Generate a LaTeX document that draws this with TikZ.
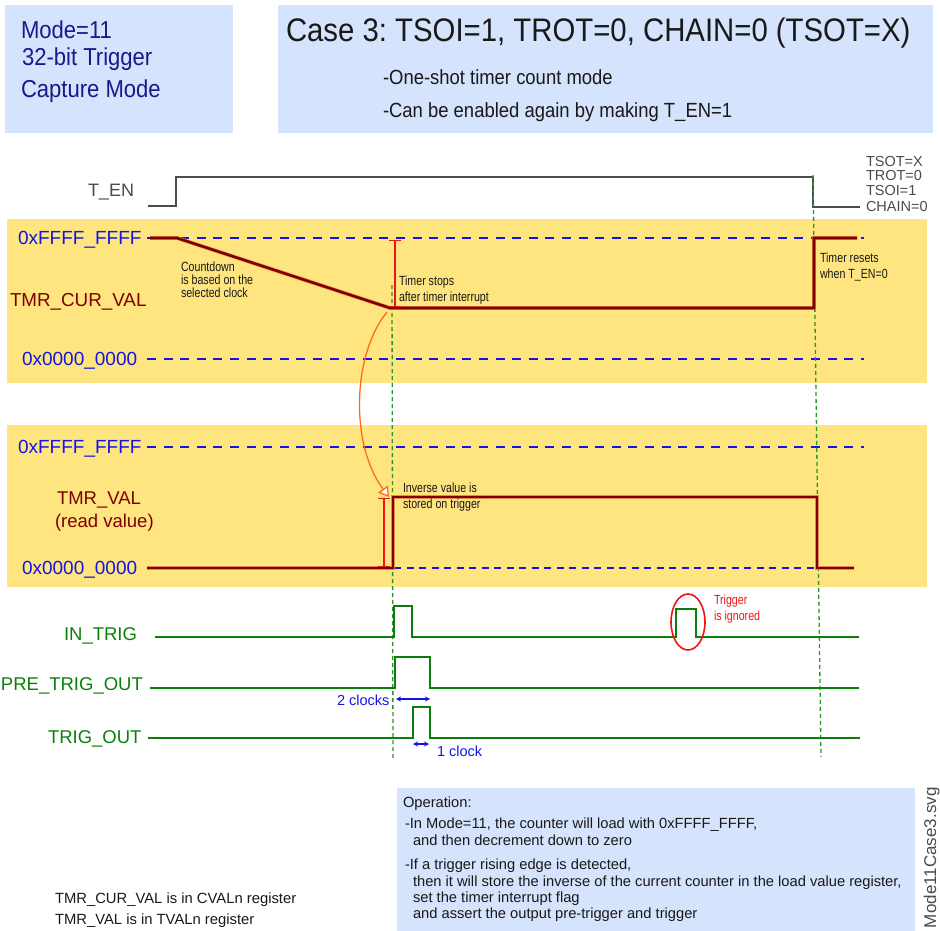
\documentclass[tikz,border=0pt]{standalone}
\usepackage{fontspec}
\setmainfont{Liberation Sans}
\newfontfamily\narrowfont[FakeStretch=0.8]{Liberation Sans}
\newfontfamily\titlefont[FakeStretch=0.9]{Liberation Sans}
\usetikzlibrary{arrows.meta}
\frenchspacing
\definecolor{boxblue}{RGB}{213,227,252}
\definecolor{panelyel}{RGB}{255,229,128}
\definecolor{navytxt}{RGB}{25,25,140}
\definecolor{dashblue}{RGB}{20,20,230}
\definecolor{dred}{RGB}{125,0,0}
\definecolor{halo}{RGB}{230,140,70}
\definecolor{sgreen}{RGB}{10,128,10}
\definecolor{lgreen}{RGB}{40,150,40}
\definecolor{tgrey}{RGB}{75,75,75}
\definecolor{arcorange}{RGB}{255,110,20}
\definecolor{ired}{RGB}{240,20,20}
\definecolor{txtblack}{RGB}{25,25,25}
\begin{document}
\begin{tikzpicture}[x=1pt,y=-1pt,
  txt/.style={anchor=base west,inner sep=0pt,outer sep=0pt},
  hexdash/.style={draw=dashblue,line width=2.8pt,dash pattern=on 9pt off 7.6pt},
  tmr/.style={draw=dred,line width=2.6pt,line join=miter},
  tmrhalo/.style={draw=halo,line width=3.8pt,line join=miter},
  sig/.style={draw=sgreen,line width=2.6pt,line join=miter},
  ten/.style={draw=tgrey,line width=2.4pt,line join=miter},
  vguide/.style={draw=lgreen,line width=1.3pt,dash pattern=on 4pt off 3pt},
  ibar/.style={draw=ired,line width=1.4pt,{Bar[width=12pt]}-{Bar[width=12pt]}},
  clk/.style={draw=dashblue,line width=1.2pt,{Stealth[length=5pt,width=5pt]}-{Stealth[length=5pt,width=5pt]}},
  hexlbl/.style={txt,text=dashblue,font=\fontsize{19}{22}\selectfont},
  redlbl/.style={txt,text=dred,font=\fontsize{18.5}{22}\selectfont},
  grnlbl/.style={txt,text=sgreen,font=\fontsize{18.5}{22}\selectfont},
  note/.style={txt,text=txtblack,font=\narrowfont\fontsize{13.3}{15}\selectfont},
  optxt/.style={txt,text=txtblack,font=\fontsize{14.7}{17}\selectfont},
  cfg/.style={txt,text=tgrey,font=\fontsize{14.5}{15}\selectfont}]
\useasboundingbox (0,0) rectangle (940,931);

% header boxes
\fill[boxblue] (5,5) rectangle (233,133);
\fill[boxblue] (278,5) rectangle (933,133);
\node[txt,text=navytxt,font=\titlefont\fontsize{24.5}{26}\selectfont] (mode) at (21,39) {Mode=11};
\node[txt,text=navytxt,font=\titlefont\fontsize{24.5}{26}\selectfont] (bits) at (22,66) {32-bit Trigger};
\node[txt,text=navytxt,font=\titlefont\fontsize{24.5}{26}\selectfont] (capt) at (21,98) {Capture Mode};
\node[txt,text=txtblack,font=\titlefont\fontsize{32.6}{34}\selectfont] (title) at (286,41.6) {Case 3: TSOI=1, TROT=0, CHAIN=0 (TSOT=X)};
\node[txt,text=txtblack,font=\titlefont\fontsize{20.5}{22}\selectfont] (sub1) at (383,84.7) {-One-shot timer count mode};
\node[txt,text=txtblack,font=\titlefont\fontsize{20.5}{22}\selectfont] (sub2) at (383,117.7) {-Can be enabled again by making T\_EN=1};

% T_EN
\node[txt,text=tgrey,font=\fontsize{18}{22}\selectfont] (ten) at (88,196.5) {T\_EN};
\draw[ten] (148,206) -- (176,206) -- (176,177) -- (813,177) -- (813,207) -- (860,207);
\node[cfg] (tsot) at (866,166.2) {TSOT=X};
\node[cfg] (trot) at (866,180.2) {TROT=0};
\node[cfg] (tsoi) at (866,195.2) {TSOI=1};
\node[cfg] (chain) at (866,211.2) {CHAIN=0};

% panels
\fill[panelyel] (7,219) rectangle (927,383);
\fill[panelyel] (7,425) rectangle (927,587);

% panel 1
\node[hexlbl] (f1) at (18,244.8) {0xFFFF\_FFFF};
\node[redlbl,font=\fontsize{18.8}{22}\selectfont] (cur) at (10,306.8) {TMR\_CUR\_VAL};
\node[hexlbl] (z1) at (22,365.8) {0x0000\_0000};
\draw[hexdash] (147,238) -- (864,238);
\draw[hexdash] (147,359) -- (864,359);

% panel 2
\node[hexlbl] (f2) at (18,453.8) {0xFFFF\_FFFF};
\node[redlbl] (tv) at (57,504.7) {TMR\_VAL};
\node[redlbl] (rv) at (55,527.7) {(read value)};
\node[hexlbl] (z2) at (22,574.8) {0x0000\_0000};
\draw[hexdash] (147,447) -- (864,447);
\draw[draw=dashblue,line width=2pt,dash pattern=on 7pt off 5.5pt] (394,568) -- (818,568);

% guides
\draw[vguide] (392,285) -- (393,760);
\draw[vguide] (813,175) -- (821,757);

% TMR_CUR_VAL waveform
\draw[tmrhalo] (150,238) -- (177,238) -- (390,308) -- (814,308) -- (814,238) -- (857,238);
\draw[tmr] (150,238) -- (177,238) -- (390,308) -- (814,308) -- (814,238) -- (857,238);
\draw[ibar] (395,240) -- (395,307);
\node[note] (cd1) at (181,271.5) {Countdown};
\node[note] (cd2) at (181,284.5) {is based on the};
\node[note] (cd3) at (181,297.5) {selected clock};
\node[note] (ts1) at (399,285.5) {Timer stops};
\node[note] (ts2) at (399,301.5) {after timer interrupt};
\node[note] (tr1) at (820,262.5) {Timer resets};
\node[note] (tr2) at (820,278.5) {when T\_EN=0};

% TMR_VAL waveform
\draw[tmrhalo] (147,568) -- (393,568) -- (393,497) -- (817,497) -- (817,568) -- (854,568);
\draw[tmr] (147,568) -- (393,568) -- (393,497) -- (817,497) -- (817,568) -- (854,568);
\draw[ibar] (384,498) -- (384,567);
\node[note] (iv1) at (403,492.5) {Inverse value is};
\node[note] (iv2) at (403,508.5) {stored on trigger};

% orange arc
\coordinate (arcS) at (387,312);
\coordinate (arcE) at (389,497);
\draw[draw=arcorange,line width=1.3pt,-{Triangle[open,fill=white,length=10pt,width=12pt]}]
  (arcS) .. controls (352,355) and (350,445) .. (arcE);

% trigger signals
\node[grnlbl] (int) at (64,640.7) {IN\_TRIG};
\draw[sig] (155,637) -- (394,637) -- (394,606) -- (412,606) -- (412,637) -- (676,637) -- (676,609) -- (696,609) -- (696,637) -- (859,637);
\draw[draw=ired,line width=1.6pt] (688,622) ellipse [x radius=17pt, y radius=28pt];
\node[txt,text=ired,font=\narrowfont\fontsize{13.3}{15}\selectfont] (ig1) at (714,604.5) {Trigger};
\node[txt,text=ired,font=\narrowfont\fontsize{13.3}{15}\selectfont] (ig2) at (714,620.5) {is ignored};

\node[grnlbl] (pto) at (1,690.7) {PRE\_TRIG\_OUT};
\draw[sig] (150,688) -- (395,688) -- (395,657) -- (430,657) -- (430,688) -- (859,688);
\draw[clk] (396,699) -- (430,699);
\node[txt,text=dashblue,font=\fontsize{14.5}{17}\selectfont] (c2) at (337,705.2) {2 clocks};

\node[grnlbl] (to) at (48,743.7) {TRIG\_OUT};
\draw[sig] (148,738) -- (413,738) -- (413,707) -- (430,707) -- (430,738) -- (860,738);
\draw[clk] (413,744) -- (429,744);
\node[txt,text=dashblue,font=\fontsize{14.5}{17}\selectfont] (c1) at (437,756.2) {1 clock};

% operation box
\fill[boxblue] (397,788) rectangle (915,931);
\node[optxt] (op0) at (403,807) {Operation:};
\node[optxt] (op1) at (405,828) {-In Mode=11, the counter will load with 0xFFFF\_FFFF,};
\node[optxt] (op2) at (413,845) {and then decrement down to zero};
\node[optxt] (op3) at (405,869) {-If a trigger rising edge is detected,};
\node[optxt] (op4) at (413,886) {then it will store the inverse of the current counter in the load value register,};
\node[optxt] (op5) at (413,902) {set the timer interrupt flag};
\node[optxt] (op6) at (413,918) {and assert the output pre-trigger and trigger};

\node[txt,text=tgrey,font=\fontsize{17}{20}\selectfont,rotate=90] (fname) at (936,928) {Mode11Case3.svg};

\node[optxt,font=\fontsize{14.8}{17}\selectfont] (n1) at (55,903) {TMR\_CUR\_VAL is in CVALn register};
\node[optxt,font=\fontsize{14.8}{17}\selectfont] (n2) at (55,924) {TMR\_VAL is in TVALn register};
\end{tikzpicture}
\end{document}
